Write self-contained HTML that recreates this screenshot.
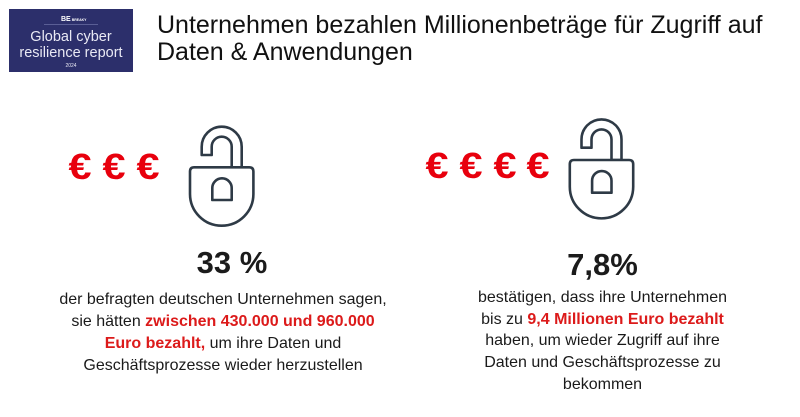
<!DOCTYPE html>
<html><head><meta charset="utf-8">
<style>
html,body{margin:0;padding:0;background:#fff;}
body{width:800px;height:417px;position:relative;overflow:hidden;font-family:"Liberation Sans",Arial,sans-serif;color:#1a1a1a;}
.abs{position:absolute;white-space:nowrap;}
.logo{position:absolute;left:9px;top:9px;width:124px;height:63px;background:#2c2f6b;}
.lt{position:absolute;left:0;width:124px;text-align:center;color:#e9e9f4;font-size:14.5px;line-height:16px;white-space:nowrap;}
.title{left:157px;top:12px;font-size:25px;line-height:27px;color:#111;}
.eur{position:absolute;width:34px;text-align:center;font-weight:bold;font-size:36px;line-height:36px;color:#e8000d;transform:scaleX(1.15);}
.big{position:absolute;width:200px;text-align:center;font-weight:bold;font-size:31px;line-height:31px;color:#1b1b1b;}
.body{position:absolute;width:400px;text-align:center;font-size:16px;line-height:21.7px;white-space:nowrap;color:#1a1a1a;}
.red{color:#dc1a1a;font-weight:bold;}
</style></head><body>

<div class="logo">
  <div style="position:absolute;left:52px;top:7px;font-size:7px;font-weight:bold;color:#fff;line-height:8px;">BE<span style="font-size:3.5px;vertical-align:top;margin-left:1px;letter-spacing:0;">BREAKY<br></span></div>
  <div style="position:absolute;left:35px;top:15px;width:54px;height:1px;background:#5a5e95;"></div>
  <div class="lt" style="top:20px;">Global cyber</div>
  <div class="lt" style="top:36px;">resilience report</div>
  <div class="lt" style="top:54px;font-size:5px;line-height:6px;">2024</div>
</div>

<div class="abs title">Unternehmen bezahlen Millionenbeträge für Zugriff auf<br>Daten &amp; Anwendungen</div>

<!-- left euros -->
<div class="eur" style="left:63px;top:148.5px;">€</div>
<div class="eur" style="left:97px;top:148.5px;">€</div>
<div class="eur" style="left:130.5px;top:148.5px;">€</div>

<!-- right euros -->
<div class="eur" style="left:419.5px;top:147.5px;">€</div>
<div class="eur" style="left:454px;top:147.5px;">€</div>
<div class="eur" style="left:487.5px;top:147.5px;">€</div>
<div class="eur" style="left:521px;top:147.5px;">€</div>

<svg class="abs" style="left:0;top:0;" width="800" height="417" viewBox="0 0 800 417">
  <g id="lock" fill="none" stroke="#2e3a46" stroke-width="2.6" stroke-linejoin="round">
    <path d="M201.7,155 V146.7 A20,20 0 0 1 241.7,146.7 V167.3 H231.7 V146.7 A10,10 0 0 0 211.7,146.7 V155 Z"/>
    <path d="M190,171.5 Q190,167.3 194.2,167.3 H249.2 Q253.4,167.3 253.4,171.5 V194 A31.7,31.7 0 0 1 190,194 Z" fill="#fff"/>
    <path d="M212.3,200 V188 A9.7,9.7 0 0 1 231.7,188 V200 Z"/>
  </g>
  <use href="#lock" transform="translate(379.8,-7.3)"/>
</svg>

<div class="big" style="left:132px;top:246.7px;">33 %</div>
<div class="big" style="left:502.5px;top:248.7px;">7,8%</div>

<div class="body" style="left:23px;top:289.4px;">der befragten deutschen Unternehmen sagen,<br>sie hätten <span class="red">zwischen 430.000 und 960.000</span><br><span class="red">Euro bezahlt,</span> um ihre Daten und<br>Geschäftsprozesse wieder herzustellen</div>

<div class="body" style="left:402.5px;top:287px;">bestätigen, dass ihre Unternehmen<br>bis zu <span class="red">9,4 Millionen Euro bezahlt</span><br>haben, um wieder Zugriff auf ihre<br>Daten und Geschäftsprozesse zu<br>bekommen</div>

</body></html>
